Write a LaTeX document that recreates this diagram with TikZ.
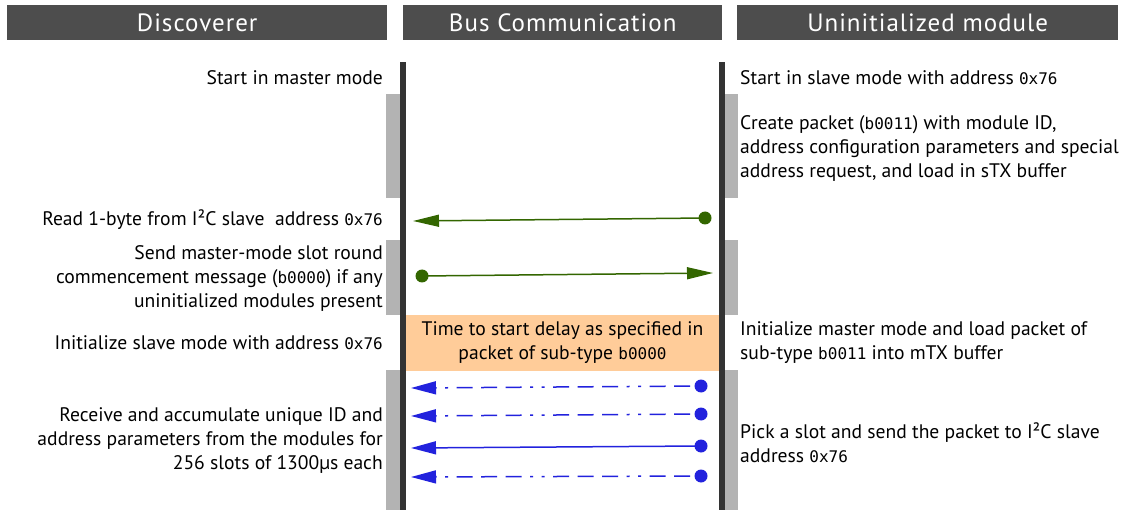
\documentclass[tikz,border=0pt]{standalone}
\usepackage{fontspec}
\setmainfont{PT Sans}
\setmonofont{DejaVu Sans Mono}
\newfontfamily\laneheadfont[LetterSpace=4]{PT Sans}
\usetikzlibrary{arrows.meta}

\definecolor{headgray}{HTML}{4D4D4D}
\definecolor{bargray}{HTML}{333333}
\definecolor{actgray}{HTML}{B3B3B3}
\definecolor{delayorange}{HTML}{FFCC99}
\definecolor{msggreen}{HTML}{336600}
\definecolor{msgblue}{HTML}{2222DD}

% inline code (addresses, packet sub-types)
\newcommand\hexv[1]{{\ttfamily\fontsize{16}{24}\selectfont #1}}

\tikzset{
  lanehead/.style={fill=headgray, text=white, inner sep=0pt, anchor=north west,
    minimum height=35pt, font=\laneheadfont\fontsize{25}{28}\selectfont},
  lefttext/.style={anchor=east, align=right, inner sep=0pt,
    font=\fontsize{19.6}{24}\selectfont},
  righttext/.style={anchor=west, align=left, inner sep=0pt,
    font=\fontsize{19.6}{24}\selectfont},
  delaytext/.style={align=center, inner sep=0pt,
    font=\fontsize{19.6}{24}\selectfont},
  greenmsg/.style={draw=msggreen, line width=1.5pt,
    -{Triangle[length=26pt,width=12pt]}},
  bluemsg/.style={draw=msgblue, line width=1.5pt,
    -{Triangle[length=25pt,width=13pt]}},
  bluedash/.style={bluemsg, shorten <=11pt,
    dash pattern=on 16pt off 8.5pt on 16pt off 8.5pt on 3pt off 8.5pt on 3pt off 8.5pt on 16pt off 8.5pt},
  msgdot/.style={radius=6.5pt},
}

\begin{document}
\begin{tikzpicture}[x=1pt,y=-1pt]
\useasboundingbox (0,0) rectangle (1123,510);

% lane headers
\node[lanehead, minimum width=380pt] (hdisc) at (7,5) {Discoverer};
\node[lanehead, minimum width=319pt] (hbus)  at (403,5) {Bus Communication};
\node[lanehead, minimum width=381pt] (hmod)  at (737,5) {Uninitialized module};

% delay phase on the bus
\fill[delayorange] (406,315) rectangle (719,371);
\node[delaytext] (delay) at (562.5,343) {Time to start delay as specified in\\packet of sub-type \hexv{b0000}};

% activity bars of the discoverer
\fill[actgray] (386,94) rectangle (400,198);
\fill[actgray] (386,240) rectangle (400,315);
\fill[actgray] (386,370) rectangle (400,510);
% activity bars of the module
\fill[actgray] (725,94) rectangle (738,198);
\fill[actgray] (725,240) rectangle (738,315);
\fill[actgray] (725,370) rectangle (738,510);

% lifelines
\fill[bargray] (400,62) rectangle (406,510);
\fill[bargray] (719,62) rectangle (725,510);

% discoverer steps
\node[lefttext] (d1) at (383,78) {Start in master mode};
\node[lefttext] (d2) at (383,220) {Read 1-byte from I²C slave\ \ address \hexv{0x76}};
\node[lefttext] (d3) at (383,278) {Send master-mode slot round\\commencement message (\hexv{b0000}) if any\\uninitialized modules present};
\node[lefttext] (d4) at (383,343) {Initialize slave mode with address \hexv{0x76}};
\node[lefttext] (d5) at (383,441) {Receive and accumulate unique ID and\\address parameters from the modules for\\256 slots of 1300µs each};

% module steps
\node[righttext] (m1) at (740,78) {Start in slave mode with address \hexv{0x76}};
\node[righttext] (m2) at (740,148) {Create packet (\hexv{b0011}) with module ID,\\address configuration parameters and special\\address request, and load in sTX buffer};
\node[righttext] (m3) at (740,343) {Initialize master mode and load packet of\\sub-type \hexv{b0011} into mTX buffer};
\node[righttext] (m4) at (740,443) {Pick a slot and send the packet to I²C slave\\address \hexv{0x76}};

% message end points
\coordinate (g1s) at (705,218);
\coordinate (g1e) at (413,221);
\coordinate (g2s) at (422,276);
\coordinate (g2e) at (713,273);
\coordinate (b1s) at (701,386);
\coordinate (b1e) at (411,388);
\coordinate (b2s) at (701,414);
\coordinate (b2e) at (411,416);
\coordinate (b3s) at (701,446);
\coordinate (b3e) at (411,448);
\coordinate (b4s) at (701,476);
\coordinate (b4e) at (411,477);

% read request and round commencement
\draw[greenmsg] (g1s) -- (g1e);
\fill[msggreen, msgdot] (g1s) circle;
\draw[greenmsg] (g2s) -- (g2e);
\fill[msggreen, msgdot] (g2s) circle;

% slot replies from the modules
\draw[bluedash] (b1s) -- (b1e);
\fill[msgblue, msgdot] (b1s) circle;
\draw[bluedash] (b2s) -- (b2e);
\fill[msgblue, msgdot] (b2s) circle;
\draw[bluemsg] (b3s) -- (b3e);
\fill[msgblue, msgdot] (b3s) circle;
\draw[bluedash] (b4s) -- (b4e);
\fill[msgblue, msgdot] (b4s) circle;
\end{tikzpicture}
\end{document}
